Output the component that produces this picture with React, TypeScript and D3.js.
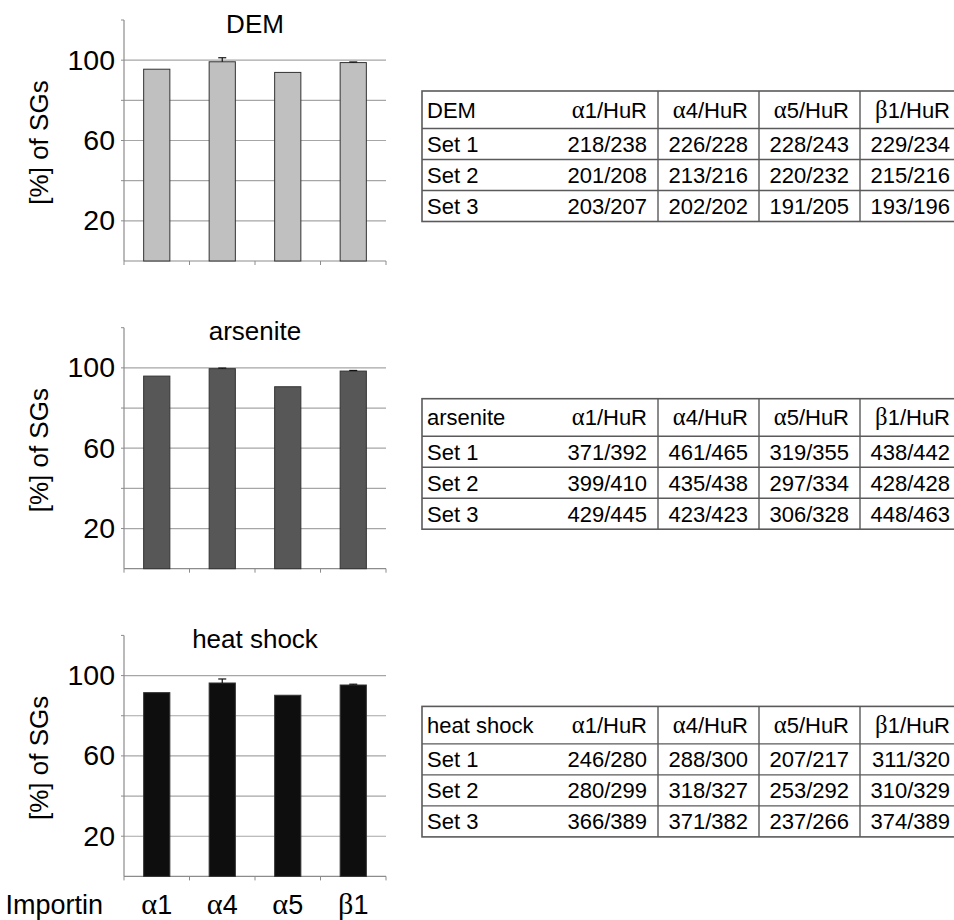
import React from "react";
import * as d3 from "d3";

// categories and values
const importins = ["α1", "α4", "α5", "β1"];
const conditions = ["DEM", "arsenite", "heat shock"];
const demValues = [95.5, 99.2, 93.9, 98.8];
const demErrors = [0, 2.0, 0, 0.3];
const arseniteValues = [95.9, 99.6, 90.6, 98.4];
const arseniteErrors = [0, 0.3, 0, 0.3];
const heatValues = [91.5, 96.3, 90.2, 95.3];
const heatErrors = [0, 2.0, 0, 0.4];
const gridTicks = [20, 40, 60, 80, 100];
const labelTicks = [20, 60, 100];

const tableColumns = ["α1/HuR", "α4/HuR", "α5/HuR", "β1/HuR"];
const setLabels = ["Set 1", "Set 2", "Set 3"];
const demCounts = [
  ["218/238", "226/228", "228/243", "229/234"],
  ["201/208", "213/216", "220/232", "215/216"],
  ["203/207", "202/202", "191/205", "193/196"],
];
const arseniteCounts = [
  ["371/392", "461/465", "319/355", "438/442"],
  ["399/410", "435/438", "297/334", "428/428"],
  ["429/445", "423/423", "306/328", "448/463"],
];
const heatCounts = [
  ["246/280", "288/300", "207/217", "311/320"],
  ["280/299", "318/327", "253/292", "310/329"],
  ["366/389", "371/382", "237/266", "374/389"],
];

const sans = "'Liberation Sans', Arial, sans-serif";
const greek = "'Liberation Serif', 'Times New Roman', serif";

const panels = [
  { name: conditions[0], values: demValues, errors: demErrors, counts: demCounts, fill: "#c0c0c0" },
  { name: conditions[1], values: arseniteValues, errors: arseniteErrors, counts: arseniteCounts, fill: "#575757" },
  { name: conditions[2], values: heatValues, errors: heatErrors, counts: heatCounts, fill: "#0e0e0e" },
];

// text with a leading Greek letter drawn in a serif face
const GreekLabel = ({ label }) => (
  <>
    <tspan fontFamily={greek} fontSize="1.12em">{label[0]}</tspan>
    <tspan>{label.slice(1)}</tspan>
  </>
);

const axisLeft = 124;
const axisRight = 386;
const plotTop = 20;
const plotBottom = 261;

const BarPanel = ({ panel, showCategories }) => {
  const x = d3
    .scaleBand()
    .domain(importins)
    .range([axisLeft, axisRight])
    .paddingInner(0.6)
    .paddingOuter(0.3);
  const y = d3.scaleLinear().domain([0, 120]).range([plotBottom, plotTop]);
  const step = x.step();
  const bounds = d3.range(importins.length + 1).map((i) => axisLeft + i * step);

  return (
    <g>
      {gridTicks.map((t) => (
        <line key={t} x1={axisLeft} x2={axisRight} y1={y(t)} y2={y(t)} stroke="#a6a6a6" strokeWidth={1.2} />
      ))}
      {[...gridTicks, 120].map((t) => (
        <line key={"tk" + t} x1={axisLeft - 3} x2={axisLeft} y1={y(t)} y2={y(t)} stroke="#8c8c8c" />
      ))}
      <line x1={axisLeft} x2={axisLeft} y1={y(0)} y2={y(120)} stroke="#8c8c8c" strokeWidth={1.2} />
      <line x1={axisLeft} x2={axisRight} y1={y(0)} y2={y(0)} stroke="#8c8c8c" strokeWidth={1.2} />
      {bounds.map((b, i) => (
        <line key={"xb" + i} x1={b} x2={b} y1={y(0)} y2={y(0) + 4} stroke="#8c8c8c" />
      ))}
      {labelTicks.map((t) => (
        <text key={"lb" + t} x={axisLeft - 9} y={y(t) + 9.5} textAnchor="end" fontSize={28.5} fontFamily={sans}>
          {t}
        </text>
      ))}
      {importins.map((c, i) => (
        <rect
          key={c}
          x={x(c)}
          y={y(panel.values[i])}
          width={x.bandwidth()}
          height={y(0) - y(panel.values[i])}
          fill={panel.fill}
          stroke="#333"
          strokeWidth={1}
        />
      ))}
      {importins.map((c, i) =>
        panel.errors[i] > 0 ? (
          <g key={"e" + c} stroke="#111" strokeWidth={1.2}>
            <line
              x1={x(c) + x.bandwidth() / 2}
              x2={x(c) + x.bandwidth() / 2}
              y1={y(panel.values[i])}
              y2={y(panel.values[i] + panel.errors[i])}
            />
            <line
              x1={x(c) + x.bandwidth() / 2 - 4}
              x2={x(c) + x.bandwidth() / 2 + 4}
              y1={y(panel.values[i] + panel.errors[i])}
              y2={y(panel.values[i] + panel.errors[i])}
            />
          </g>
        ) : null
      )}
      <text x={(axisLeft + axisRight) / 2} y={plotTop + 12.5} textAnchor="middle" fontSize={26} fontFamily={sans}>
        {panel.name}
      </text>
      <text
        transform={`translate(48,${(plotTop + plotBottom) / 2 + 2}) rotate(-90)`}
        textAnchor="middle"
        fontSize={26}
        fontFamily={sans}
      >
        [%] of SGs
      </text>
      {showCategories && (
        <g fontSize={27} fontFamily={sans}>
          <text x={103} y={y(0) + 38} textAnchor="end">
            Importin
          </text>
          {importins.map((c) => (
            <text key={"cl" + c} x={x(c) + x.bandwidth() / 2} y={y(0) + 38} textAnchor="middle">
              <GreekLabel label={c} />
            </text>
          ))}
        </g>
      )}
    </g>
  );
};

const tableLeft = 422;
const colEdges = [658, 759, 860, 961];
const headerH = 37.5;
const rowH = 31;

const CountTable = ({ panel }) => {
  const rowY = d3.scaleLinear().domain([0, 1]).range([headerH, headerH + rowH]);
  const height = headerH + rowH * setLabels.length;
  const rightX = colEdges.map((e) => e - 11);
  return (
    <g fontFamily={sans} fontSize={22}>
      <rect x={tableLeft} y={0} width={colEdges[3] - tableLeft} height={height} fill="none" stroke="#5a5a5a" strokeWidth={1.6} />
      {setLabels.map((s, i) => (
        <line key={"h" + s} x1={tableLeft} x2={colEdges[3]} y1={rowY(i)} y2={rowY(i)} stroke="#5a5a5a" strokeWidth={1.4} />
      ))}
      {colEdges.slice(0, 3).map((e) => (
        <line key={"v" + e} x1={e} x2={e} y1={0} y2={height} stroke="#5a5a5a" strokeWidth={1.4} />
      ))}
      <text x={tableLeft + 5} y={headerH / 2 + 8}>
        {panel.name}
      </text>
      {tableColumns.map((c, j) => (
        <text key={c} x={rightX[j]} y={headerH / 2 + 8} textAnchor="end">
          <GreekLabel label={c} />
        </text>
      ))}
      {setLabels.map((s, i) => (
        <g key={s}>
          <text x={tableLeft + 5} y={rowY(i) + rowH / 2 + 8}>
            {s}
          </text>
          {panel.counts[i].map((v, j) => (
            <text key={j} x={rightX[j]} y={rowY(i) + rowH / 2 + 8} textAnchor="end">
              {v}
            </text>
          ))}
        </g>
      ))}
    </g>
  );
};

const panelStep = 307.7;

export default function App() {
  return (
    <svg
      width={954}
      height={920}
      style={{ position: "absolute", left: 0, top: 0, background: "#fff" }}
    >
      <rect width={954} height={920} fill="#fff" />
      {panels.map((p, i) => (
        <g key={p.name} transform={`translate(0,${i * panelStep})`}>
          <BarPanel panel={p} showCategories={i === panels.length - 1} />
          <g transform="translate(0,91)">
            <CountTable panel={p} />
          </g>
        </g>
      ))}
    </svg>
  );
}
